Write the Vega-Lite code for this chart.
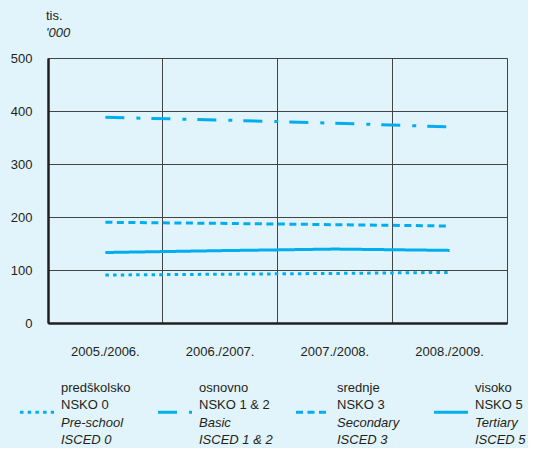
{
  "$schema": "https://vega.github.io/schema/vega-lite/v6.json",
  "background": "#e1f4fb",
  "padding": {"left": 9, "top": 9, "right": 2, "bottom": 1},
  "spacing": 23,
  "config": {
    "font": "Liberation Sans",
    "view": {"stroke": "#444", "strokeWidth": 1},
    "axis": {"labelFont": "Liberation Sans", "labelFontSize": 13, "labelColor": "#231f20"}
  },
  "vconcat": [
    {
      "width": 459,
      "height": 265,
      "title": {
        "text": "tis.",
        "subtitle": "'000",
        "anchor": "start",
        "frame": "group",
        "font": "Liberation Sans",
        "fontSize": 13,
        "fontWeight": "normal",
        "color": "#231f20",
        "subtitleFont": "Liberation Sans",
        "subtitleFontSize": 13,
        "subtitleFontStyle": "italic",
        "subtitleColor": "#231f20",
        "subtitlePadding": 4,
        "offset": 12,
        "dx": -2
      },
      "data": {
        "values": [
          {"year": "2005./2006.", "series": "Pre-school", "value": 90.5},
          {"year": "2006./2007.", "series": "Pre-school", "value": 92},
          {"year": "2007./2008.", "series": "Pre-school", "value": 93.5},
          {"year": "2008./2009.", "series": "Pre-school", "value": 95.5},
          {"year": "2005./2006.", "series": "Basic", "value": 388},
          {"year": "2006./2007.", "series": "Basic", "value": 383},
          {"year": "2007./2008.", "series": "Basic", "value": 377},
          {"year": "2008./2009.", "series": "Basic", "value": 370},
          {"year": "2005./2006.", "series": "Secondary", "value": 190},
          {"year": "2006./2007.", "series": "Secondary", "value": 188},
          {"year": "2007./2008.", "series": "Secondary", "value": 185.5},
          {"year": "2008./2009.", "series": "Secondary", "value": 183},
          {"year": "2005./2006.", "series": "Tertiary", "value": 133},
          {"year": "2006./2007.", "series": "Tertiary", "value": 136.5},
          {"year": "2007./2008.", "series": "Tertiary", "value": 139.5},
          {"year": "2008./2009.", "series": "Tertiary", "value": 137}
        ]
      },
      "mark": {"type": "line", "strokeWidth": 3, "color": "#00aeef", "strokeCap": "butt"},
      "encoding": {
        "x": {
          "field": "year",
          "type": "ordinal",
          "bandPosition": 0.5,
          "scale": {"type": "band", "paddingInner": 0, "paddingOuter": 0},
          "axis": {
            "title": null,
            "labelAngle": 0,
            "bandPosition": 0,
            "labelPadding": 22,
            "labelOverlap": false,
            "ticks": false,
            "grid": true,
            "gridColor": "#444",
            "gridWidth": 1,
            "gridOpacity": 1,
            "domainColor": "#231f20",
            "domainWidth": 2.5
          }
        },
        "y": {
          "field": "value",
          "type": "quantitative",
          "scale": {"domain": [0, 500]},
          "axis": {
            "title": null,
            "values": [0, 100, 200, 300, 400, 500],
            "labelPadding": 16,
            "ticks": false,
            "grid": true,
            "gridColor": "#444",
            "gridWidth": 1,
            "gridOpacity": 1,
            "domainColor": "#231f20",
            "domainWidth": 2.5
          }
        },
        "strokeDash": {
          "field": "series",
          "type": "nominal",
          "scale": {
            "domain": ["Pre-school", "Basic", "Secondary", "Tertiary"],
            "range": [[3.5, 4.2], [19, 12, 4, 11], [7, 4.5], [1, 0]]
          },
          "legend": null
        }
      }
    },
    {
      "width": 459,
      "height": 52,
      "view": {"stroke": null},
      "data": {
        "values": [
          {"series": "Pre-school", "line": 1, "text": "predškolsko"},
          {"series": "Pre-school", "line": 2, "text": "NSKO 0"},
          {"series": "Pre-school", "line": 3, "text": "Pre-school"},
          {"series": "Pre-school", "line": 4, "text": "ISCED 0"},
          {"series": "Basic", "line": 1, "text": "osnovno"},
          {"series": "Basic", "line": 2, "text": "NSKO 1 & 2"},
          {"series": "Basic", "line": 3, "text": "Basic"},
          {"series": "Basic", "line": 4, "text": "ISCED 1 & 2"},
          {"series": "Secondary", "line": 1, "text": "srednje"},
          {"series": "Secondary", "line": 2, "text": "NSKO 3"},
          {"series": "Secondary", "line": 3, "text": "Secondary"},
          {"series": "Secondary", "line": 4, "text": "ISCED 3"},
          {"series": "Tertiary", "line": 1, "text": "visoko"},
          {"series": "Tertiary", "line": 2, "text": "NSKO 5"},
          {"series": "Tertiary", "line": 3, "text": "Tertiary"},
          {"series": "Tertiary", "line": 4, "text": "ISCED 5"}
        ]
      },
      "encoding": {
        "x": {
          "field": "series",
          "type": "nominal",
          "sort": ["Pre-school", "Basic", "Secondary", "Tertiary"],
          "scale": {"type": "point", "padding": 0, "range": [13, 427]},
          "axis": null
        }
      },
      "layer": [
        {
          "transform": [{"filter": "datum.line <= 2"}],
          "mark": {"type": "text", "align": "left", "baseline": "middle", "fontSize": 13, "font": "Liberation Sans", "color": "#231f20"},
          "encoding": {
            "y": {"field": "line", "type": "quantitative", "scale": {"domain": [1, 4], "reverse": true}, "axis": null},
            "text": {"field": "text"}
          }
        },
        {
          "transform": [{"filter": "datum.line >= 3"}],
          "mark": {"type": "text", "align": "left", "baseline": "middle", "fontSize": 13, "font": "Liberation Sans", "fontStyle": "italic", "color": "#231f20"},
          "encoding": {
            "y": {"field": "line", "type": "quantitative", "scale": {"domain": [1, 4], "reverse": true}, "axis": null},
            "text": {"field": "text"}
          }
        },
        {
          "transform": [{"filter": "datum.line == 1"}],
          "mark": {"type": "rule", "strokeWidth": 3, "color": "#00aeef", "xOffset": -41, "x2Offset": -7, "strokeCap": "butt"},
          "encoding": {
            "x2": {"field": "series"},
            "y": {"datum": 2.4, "type": "quantitative", "scale": {"domain": [1, 4], "reverse": true}, "axis": null},
            "strokeDash": {
              "field": "series",
              "type": "nominal",
              "scale": {
                "domain": ["Pre-school", "Basic", "Secondary", "Tertiary"],
                "range": [[3.5, 4.2], [19, 12, 4, 11], [7, 4.5], [1, 0]]
              },
              "legend": null
            }
          }
        }
      ]
    }
  ]
}
